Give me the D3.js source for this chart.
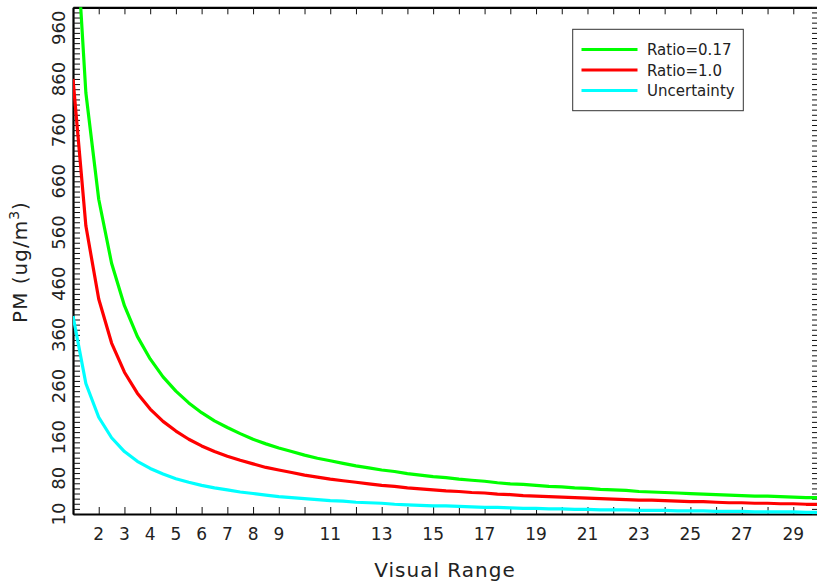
<!DOCTYPE html>
<html><head><meta charset="utf-8">
<script src="https://cdn.jsdelivr.net/npm/d3@7"></script>
<style>
html,body{margin:0;padding:0;background:#fff;}
svg{display:block;}
text{font-family:"DejaVu Sans",sans-serif;fill:#222;}
</style></head>
<body>
<svg id="chart" width="817" height="585"></svg>
<script>
const visualRange = [1,1.5,2,2.5,3,3.5,4,4.5,5,5.5,6,6.5,7,7.5,8,8.5,9,9.5,10,10.5,11,11.5,12,12.5,13,13.5,14,14.5,15,15.5,16,16.5,17,17.5,18,18.5,19,19.5,20,20.5,21,21.5,22,22.5,23,23.5,24,24.5,25,25.5,26,26.5,27,27.5,28,28.5,29,29.5,30];
const ratio017 = [1250,833,625,500,417,357,313,278,250,227,208,192,179,167,156,147,139,132,125,119,114,109,104,100,96,93,89,86,83,81,78,76,74,71,69,68,66,64,63,61,60,58,57,56,54,53,52,51,50,49,48,47,46,45,45,44,43,42,42];
const ratio10 = [860,573,430,344,287,246,215,191,172,156,143,132,123,115,108,101,96,91,86,82,78,75,72,69,66,64,61,59,57,55,54,52,51,49,48,46,45,44,43,42,41,40,39,38,37,37,36,35,34,34,33,32,32,31,31,30,30,29,29];
const uncertainty = [397,265,199,159,132,113,99,88,79,72,66,61,57,53,50,47,44,42,40,38,36,35,33,32,31,29,28,27,26,26,25,24,23,23,22,21,21,20,20,19,19,18,18,18,17,17,17,16,16,16,15,15,15,14,14,14,14,13,13];
const seriesNames = ["Ratio=0.17","Ratio=1.0","Uncertainty"];
const seriesColors = ["#00ff00","#ff0000","#00ffff"];
const xTickLabels = [2,3,4,5,6,7,8,9,11,13,15,17,19,21,23,25,27,29];
const yTickLabels = [10,80,160,260,360,460,560,660,760,860,960];

const svg = d3.select("#chart");
const L = 73, R = 819, T = 7.3, B = 514;
const x = d3.scaleLinear().domain([1,30]).range([L,R]);
const y = d3.scaleLinear().domain([10,1000]).range([B,T]);

svg.append("defs").append("clipPath").attr("id","clip")
  .append("rect").attr("x",L).attr("y",T).attr("width",R-L).attr("height",B-T);

const xTicks = d3.range(2,30);
const yTicks = d3.range(10,1001,10);

const gBottom = svg.append("g").attr("transform",`translate(0,${B})`)
  .call(d3.axisBottom(x).tickValues(xTicks).tickSizeInner(-7).tickSizeOuter(0).tickFormat(""));
const gTop = svg.append("g").attr("transform",`translate(0,${T})`)
  .call(d3.axisTop(x).tickValues(xTicks).tickSizeInner(-7).tickSizeOuter(0).tickFormat(""));
const gLeft = svg.append("g").attr("transform",`translate(${L},0)`)
  .call(d3.axisLeft(y).tickValues(yTicks).tickSizeInner(-7).tickSizeOuter(0).tickFormat(""));
const gRight = svg.append("g").attr("transform",`translate(${R},0)`)
  .call(d3.axisRight(y).tickValues(yTicks).tickSizeInner(-7).tickSizeOuter(0).tickFormat(""));
[gBottom,gTop,gLeft,gRight].forEach(g=>{
  g.select(".domain").attr("stroke","#000").attr("stroke-width",2.2);
  g.selectAll(".tick line").attr("stroke","#111").attr("stroke-width",1);
});

// x tick labels
svg.append("g").selectAll("text").data(xTickLabels).join("text")
  .attr("x",d=>x(d)).attr("y",539.5).attr("text-anchor","middle")
  .attr("font-size",17).text(d=>d);

// y tick labels (rotated)
svg.append("g").selectAll("text").data(yTickLabels).join("text")
  .attr("transform",d=>`translate(65,${y(d)}) rotate(-90)`)
  .attr("text-anchor","middle").attr("font-size",18).text(d=>d);

// axis titles
svg.append("text").attr("x",445).attr("y",577).attr("text-anchor","middle")
  .attr("font-size",20).attr("letter-spacing",1).text("Visual Range");
const yt = svg.append("text").attr("transform","translate(27,262) rotate(-90)")
  .attr("text-anchor","middle").attr("font-size",20).attr("letter-spacing",1);
yt.append("tspan").text("PM  (ug/m");
yt.append("tspan").attr("dy",-8).attr("font-size",14).text("3");
yt.append("tspan").attr("dy",8).text(")");

// lines
const allSeries = [ratio017, ratio10, uncertainty];
const line = d3.line().x((d,i)=>x(visualRange[i])).y(d=>y(d));
svg.append("g").attr("clip-path","url(#clip)").selectAll("path").data(allSeries).join("path")
  .attr("d",line).attr("fill","none")
  .attr("stroke",(d,i)=>seriesColors[i]).attr("stroke-width",3.2)
  .attr("stroke-linejoin","round");

// legend
const lg = svg.append("g");
lg.append("rect").attr("x",572.7).attr("y",29.3).attr("width",170.6).attr("height",81.4)
  .attr("fill","#fff").attr("stroke","#333").attr("stroke-width",1);
const ly = [49.5,70,90.5];
seriesNames.forEach((n,i)=>{
  lg.append("line").attr("x1",581.5).attr("x2",637.5).attr("y1",ly[i]).attr("y2",ly[i])
    .attr("stroke",seriesColors[i]).attr("stroke-width",3.2);
  lg.append("text").attr("x",647).attr("y",ly[i]+5.5).attr("font-size",15).text(n);
});
</script>
</body></html>
